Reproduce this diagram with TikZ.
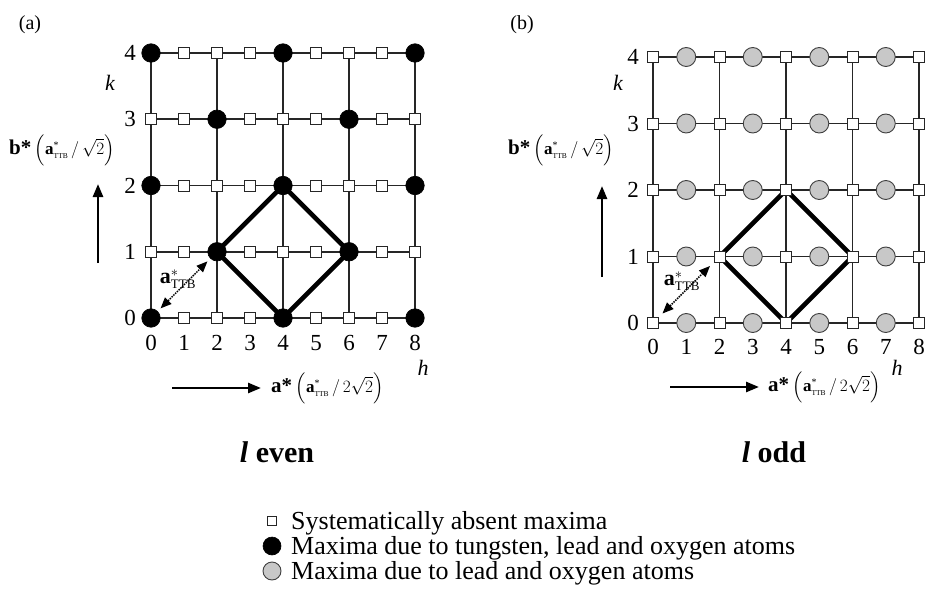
\documentclass[tikz,border=0pt]{standalone}
\usepackage{fontspec}
\setmainfont{Liberation Serif}
\usepackage{amsmath}
\usetikzlibrary{arrows.meta,backgrounds}
\definecolor{dotgrey}{RGB}{200,200,200}
\newcommand{\ttbsub}{\text{\fontsize{7.5}{8}\selectfont TTB}}
\newcommand{\ttbinner}{\text{\fontsize{17}{18}\selectfont\bfseries a}^{\text{\fontsize{10}{10}\selectfont *}}_{\ttbsub}}
\tikzset{
  gridline/.style={line width=1.6pt, draw=black!85},
  diam/.style={line width=4.6pt, line join=round, draw=black},
  blackdot/.style={circle, fill=black, draw=black, line width=0.6pt, minimum size=18.5pt, inner sep=0pt},
  greydot/.style={circle, fill=dotgrey, draw=black!75, line width=0.9pt, minimum size=19pt, inner sep=0pt},
  sqbox/.style={rectangle, fill=white, draw=black!85, line width=0.9pt, minimum size=11pt, inner sep=0pt},
  digit/.style={font=\fontsize{23}{26}\selectfont, inner sep=0pt},
  axisarrow/.style={line width=2.6pt, -{Triangle[length=13pt,width=10pt]}},
  ttbarrow/.style={line width=1.5pt, densely dotted, {Triangle[length=11pt,width=9pt]}-{Triangle[length=11pt,width=9pt]}},
  legendtxt/.style={font=\fontsize{26}{28}\selectfont, inner sep=0pt, anchor=base west},
  paneltag/.style={font=\fontsize{20}{24}\selectfont, inner sep=0pt},
  bottomlbl/.style={font=\fontsize{30}{34}\selectfont\bfseries, inner sep=0pt},
  axlbl/.style={inner sep=0pt, anchor=west}
}
\begin{document}
\begin{tikzpicture}[x=1pt,y=-1pt]
\useasboundingbox (0,0) rectangle (926,591);

% ---------------- panel (a) ----------------
\node[paneltag] (tagA) at (30,25) {(a)};
\begin{scope}[shift={(151,318)},x=33pt,y=66.25pt]
  \foreach \h in {0,...,8}{
    \foreach \k in {0,...,4}{
      \pgfmathtruncatemacro\isblk{(mod(\h,2)==0)&&(mod(\h/2+\k,2)==0)}
      \ifnum\isblk=1
        \node[blackdot] (A-\h-\k) at (\h,\k) {};
      \else
        \node[sqbox] (A-\h-\k) at (\h,\k) {};
      \fi
    }}
  \begin{pgfonlayer}{background}
    \foreach \k in {0,...,4}{\draw[gridline] (A-0-\k.center) -- (A-8-\k.center);}
    \foreach \h in {0,2,4,6,8}{\draw[gridline] (A-\h-0.center) -- (A-\h-4.center);}
    \draw[diam] (A-2-1.center) -- (A-4-2.center) -- (A-6-1.center) -- (A-4-0.center) -- cycle;
  \end{pgfonlayer}
  \foreach \h in {0,...,8}{\node[digit] (Ah-\h) at ([yshift=-25pt]A-\h-0.center) {\h};}
  \foreach \k in {0,...,4}{\node[digit] (Ak-\k) at ([xshift=-21pt]A-0-\k.center) {\k};}
  \draw[ttbarrow, shorten <=4pt, shorten >=4pt] (A-0-0) -- (A-2-1);
\end{scope}
\node[font=\fontsize{22}{26}\selectfont, inner sep=0pt] (ttbA) at (178,279) {\textbf{a}$^{*}_{\text{\fontsize{13}{14}\selectfont TTB}}$};
\node[font=\fontsize{22}{26}\selectfont\itshape, inner sep=0pt] (kA) at (110,83) {k};
\node[font=\fontsize{22}{26}\selectfont\itshape, inner sep=0pt] (hA) at (423,368) {h};
\coordinate (bA1) at (98,263);
\coordinate (bA2) at (98,184);
\draw[axisarrow] (bA1) -- (bA2);
\coordinate (aA1) at (172,388);
\coordinate (aA2) at (261,388);
\draw[axisarrow] (aA1) -- (aA2);
\node[axlbl] (blA) at (9,150) {\fontsize{21}{24}\selectfont\textbf{b*}\,{\fontsize{19}{22}\selectfont$\Bigl(\ttbinner\,/\,\sqrt{2}\Bigr)$}};
\node[axlbl] (alA) at (271,388) {\fontsize{21}{24}\selectfont\textbf{a*}\,{\fontsize{19}{22}\selectfont$\Bigl(\ttbinner\,/\,2\sqrt{2}\Bigr)$}};
\node[bottomlbl] (evenlbl) at (277,452) {\textit{l} even};

% ---------------- panel (b) ----------------
\node[paneltag] (tagB) at (522,25) {(b)};
\begin{scope}[shift={(653,323)},x=33.25pt,y=66.5pt]
  \foreach \h in {0,...,8}{
    \foreach \k in {0,...,4}{
      \pgfmathtruncatemacro\isodd{mod(\h,2)}
      \ifnum\isodd=1
        \node[greydot] (B-\h-\k) at (\h,\k) {};
      \else
        \node[sqbox] (B-\h-\k) at (\h,\k) {};
      \fi
    }}
  \begin{pgfonlayer}{background}
    \foreach \k in {0,...,4}{\draw[gridline] (B-0-\k.center) -- (B-8-\k.center);}
    \foreach \h in {0,2,4,6,8}{\draw[gridline] (B-\h-0.center) -- (B-\h-4.center);}
    \draw[diam] (B-2-1.center) -- (B-4-2.center) -- (B-6-1.center) -- (B-4-0.center) -- cycle;
  \end{pgfonlayer}
  \foreach \h in {0,...,8}{\node[digit] (Bh-\h) at ([yshift=-24pt]B-\h-0.center) {\h};}
  \foreach \k in {0,...,4}{\node[digit] (Bk-\k) at ([xshift=-20pt]B-0-\k.center) {\k};}
  \draw[ttbarrow, shorten <=5pt, shorten >=5pt] (B-0-0) -- (B-2-1);
\end{scope}
\node[font=\fontsize{22}{26}\selectfont, inner sep=0pt] (ttbB) at (682,281) {\textbf{a}$^{*}_{\text{\fontsize{13}{14}\selectfont TTB}}$};
\node[font=\fontsize{22}{26}\selectfont\itshape, inner sep=0pt] (kB) at (618,83) {k};
\node[font=\fontsize{22}{26}\selectfont\itshape, inner sep=0pt] (hB) at (897,368) {h};
\coordinate (bB1) at (602,277);
\coordinate (bB2) at (602,186);
\draw[axisarrow] (bB1) -- (bB2);
\coordinate (aB1) at (670,387);
\coordinate (aB2) at (759,387);
\draw[axisarrow] (aB1) -- (aB2);
\node[axlbl] (blB) at (508,150) {\fontsize{21}{24}\selectfont\textbf{b*}\,{\fontsize{19}{22}\selectfont$\Bigl(\ttbinner\,/\,\sqrt{2}\Bigr)$}};
\node[axlbl] (alB) at (768,387) {\fontsize{21}{24}\selectfont\textbf{a*}\,{\fontsize{19}{22}\selectfont$\Bigl(\ttbinner\,/\,2\sqrt{2}\Bigr)$}};
\node[bottomlbl] (oddlbl) at (774,452) {\textit{l} odd};

% ---------------- legend ----------------
\node[sqbox, minimum size=9pt] (L1) at (272,521) {};
\node[legendtxt] (T1) at (291,529) {Systematically absent maxima};
\node[blackdot, minimum size=18pt] (L2) at (272,546) {};
\node[legendtxt] (T2) at (291,554) {Maxima due to tungsten, lead and oxygen atoms};
\node[greydot, minimum size=18pt] (L3) at (272,571) {};
\node[legendtxt] (T3) at (291,579) {Maxima due to lead and oxygen atoms};
\end{tikzpicture}
\end{document}
